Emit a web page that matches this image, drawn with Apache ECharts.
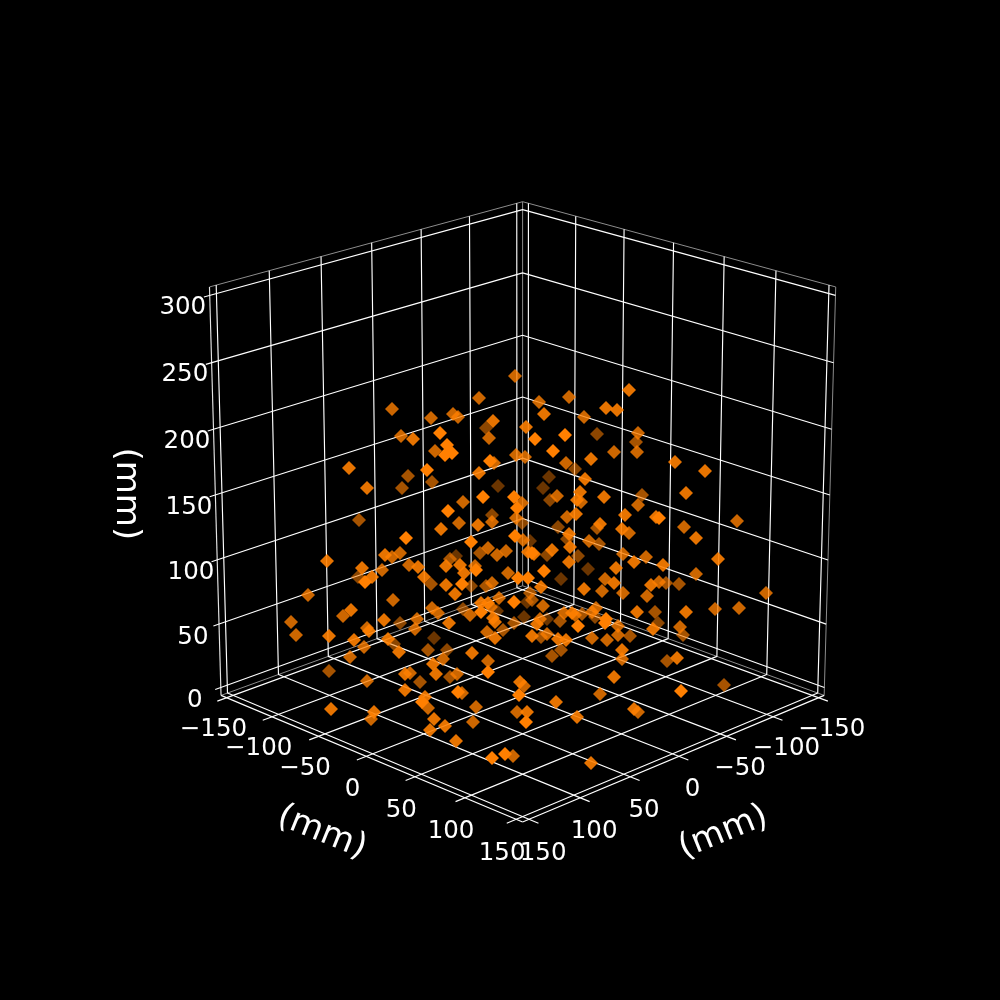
<!DOCTYPE html>
<html><head><meta charset="utf-8">
<style>html,body{margin:0;background:#000}#c{width:1000px;height:1000px}</style>
<script src="https://cdn.jsdelivr.net/npm/echarts@6/dist/echarts.min.js"></script></head>
<body><div id="c"></div>
<script>
const horizontalTicks = [-150,-100,-50,0,50,100,150];
const heightTicks = [0,50,100,150,200,250,300];
const axisTitle = "(mm)";
// samples: place on the view plane (0-1000) and depth shade
const sampleAcross = [515,479,392,431,453,458,493,486,489,526,401,413,440,447,435,445,452,516,525,490,494,349,479,427,408,367,402,432,498,483,514,463,522,448,517,492,359,459,478,492,516,522,441,406,515,523,471,488,480,506,497,528,327,385,392,400,456,450,409,418,446,460,475,362,382,358,365,372,424,431,464,476,446,462,455,471,486,492,508,518,528,308,393,291,296,351,343,384,329,367,369,354,364,350,329,367,331,374,371,388,394,399,400,417,415,432,438,449,463,470,481,488,481,491,497,499,514,527,524,493,495,514,487,503,495,434,447,428,472,443,433,488,488,436,457,450,410,405,420,405,458,462,425,422,428,476,520,524,519,517,527,526,473,434,445,430,456,492,505,513,
539,569,544,629,606,617,584,597,638,636,637,535,565,553,614,591,566,575,675,705,549,543,585,557,550,580,577,581,604,642,638,686,625,656,659,737,567,576,558,684,696,600,597,622,629,569,567,589,599,570,552,547,532,534,530,578,569,588,623,646,634,663,718,616,544,561,605,614,584,602,623,696,651,659,666,679,647,766,715,739,686,655,637,541,530,532,543,547,537,540,560,564,572,575,582,596,592,595,606,605,578,618,658,653,680,683,618,630,592,607,532,541,547,558,566,561,552,622,622,667,677,614,556,600,577,634,638,681,724,591];
const sampleDown = [376,398,409,418,414,417,421,428,438,427,436,439,433,445,451,455,453,455,457,461,463,468,473,470,476,488,488,482,486,497,497,502,503,511,508,515,520,523,525,522,518,523,529,538,536,540,542,548,553,551,555,552,561,555,557,553,556,559,565,567,566,565,566,568,570,577,582,577,577,584,573,570,585,584,594,586,586,583,573,578,578,595,600,622,635,610,616,620,636,628,631,640,647,657,671,681,709,712,719,639,644,652,623,619,629,608,613,623,609,615,603,603,612,607,611,598,602,602,617,618,622,623,632,630,638,638,650,650,653,659,664,661,672,674,674,677,673,674,682,690,692,693,697,702,708,707,682,686,695,712,712,722,722,719,726,730,741,758,754,756,
402,397,414,390,408,410,417,434,433,442,452,439,435,451,452,459,463,469,462,471,477,488,479,496,500,492,500,502,497,495,505,493,515,517,518,521,517,514,527,527,538,524,528,529,533,534,539,541,544,547,550,555,553,554,541,556,562,569,554,557,562,565,559,568,571,579,579,583,589,591,593,574,585,582,583,584,596,593,609,608,612,612,612,587,593,600,606,619,624,619,621,613,613,615,614,608,612,617,619,623,626,626,623,629,627,635,635,636,638,640,636,637,634,639,640,650,656,650,659,661,658,677,702,694,717,709,712,691,685,763];
const sampleShade = [.8,.8,.8,.8,.8,.8,.9,.55,.8,.9,.8,.9,1,1,.8,1,1,.8,.8,1,.8,.9,.9,1,.65,.9,.65,.65,.42,1,1,.8,.8,1,1,.55,.65,.8,.9,.8,.8,.55,.9,1,1,.8,1,.8,.65,.8,.8,.9,.9,.9,.8,.8,.42,.65,.8,.9,.9,.9,.8,.9,.8,.55,1,.9,.9,.65,.9,1,.9,1,.9,.55,.65,.8,.8,1,1,.8,.8,.8,.8,.9,.8,.9,.9,.8,.9,.9,.8,.8,.65,.8,.9,.9,.8,.9,.55,.9,.55,.8,.8,.8,.8,.9,.55,.8,.9,.9,1,.8,.42,.8,1,.42,.42,.9,.9,.65,.8,.65,.9,.42,.55,.65,.9,.8,.9,.8,1,.9,.8,.65,.8,.9,.65,.9,1,.8,.9,1,.8,.8,.9,.8,1,.8,.9,1,.8,.9,.9,.9,.9,1,1,.8,
.8,.8,.9,.9,.9,.9,.8,.55,.8,.65,.8,1,1,1,.8,.9,.8,.55,.9,.9,.42,.42,.9,.8,.55,.9,.9,.8,.9,.65,.8,.9,.9,.9,1,.8,.8,.9,.55,.8,.9,.9,.65,.9,.8,.9,.55,.8,.65,.9,.9,.55,1,.9,.42,.55,.9,.42,.8,.8,.9,.9,.9,.9,1,.42,.8,.9,.9,.8,.8,.8,.9,.8,.65,.65,.8,.8,.8,.8,.9,.65,.9,.9,.65,.65,.8,.42,.9,.8,.65,.8,.9,.8,.65,.8,.8,.55,1,1,1,.8,.55,.9,.8,.65,.8,.65,.8,.8,.9,.65,.8,.9,.9,.65,.65,.9,.8,.65,.9,.9,.9,.8,.9,.9,.8,1,.65,.9];

// viewing model of the box
const span = 156.25, zLow = -6.25, zHigh = 306.25;
const elev = 20*Math.PI/180, azim = 45*Math.PI/180, dist = 10, half = 0.55;
const scale = 3950, cx = 522.6, cy = 495;
function view(x,y,z){
  const X = x/span*half, Y = y/span*half, Z = (z-150)/(zHigh-150)*half;
  const u = -X*Math.sin(azim)+Y*Math.cos(azim);
  const v = -(X*Math.cos(azim)+Y*Math.sin(azim))*Math.sin(elev)+Z*Math.cos(elev);
  const w = (X*Math.cos(azim)+Y*Math.sin(azim))*Math.cos(elev)+Z*Math.sin(elev);
  return [cx+scale*u/(dist-w), cy-scale*v/(dist-w)];
}
function path(points,color,width){
  return {type:'line',silent:true,showSymbol:false,symbol:'none',animation:false,
    data:points.map(p=>view(p[0],p[1],p[2])),
    lineStyle:{color,width,cap:'butt',join:'bevel'},z:1};
}
const series = [];
const paneEdge = '#8c8c8c', ext = 9;
// pane outlines
series.push(path([[-span,span,zHigh],[-span,-span,zHigh],[span,-span,zHigh]],paneEdge,1));
series.push(path([[-span,span,zLow],[-span,span,zHigh]],paneEdge,1));
series.push(path([[-span,-span,zLow],[-span,-span,zHigh]],paneEdge,1));
series.push(path([[-span,span,zLow],[-span,-span,zLow],[span,-span,zLow]],paneEdge,1));
// axis lines
series.push(path([[span,-span,zLow],[span,span,zLow]],'#fff',1.15));
series.push(path([[-span,span,zLow],[span,span,zLow]],'#fff',1.15));
series.push(path([[span,-span,zLow],[span,-span,zHigh]],'#e4e4e4',1.15));
// grid lines with tick stubs
horizontalTicks.forEach(t=>{
  series.push(path([[t,span+ext,zLow],[t,-span,zLow],[t,-span,zHigh]],'#fff',1.15));
  series.push(path([[span+ext,t,zLow],[-span,t,zLow],[-span,t,zHigh]],'#fff',1.15));
});
heightTicks.forEach(t=>{
  series.push(path([[-span,span,t],[-span,-span,t],[span+ext*.6,-span,t]],'#fff',1.15));
});
// samples, far ones first
const order = sampleAcross.map((_,i)=>i).sort((a,b)=>sampleShade[a]-sampleShade[b]);
series.push({type:'scatter',symbol:'diamond',symbolSize:14,animation:false,silent:true,z:5,
  data:order.map(i=>({value:[sampleAcross[i],sampleDown[i]],itemStyle:{color:'#ff7f00',opacity:sampleShade[i]}}))});
// texts
const font = {fontFamily:'DejaVu Sans',color:'#fff'};
const tickItems = [];
const txt = v=>String(v).replace('-','\u2212');
horizontalTicks.forEach(t=>{
  tickItems.push({value:view(span+13.5,t,-27.5),name:txt(t)});
  tickItems.push({value:view(t,span+13.5,-27.5),name:txt(t)});
});
heightTicks.forEach(t=>tickItems.push({value:view(span+25,-span,t-3.2),name:txt(t)}));
series.push({type:'scatter',symbolSize:0,animation:false,silent:true,z:6,data:tickItems,itemStyle:{opacity:1},
  label:{show:true,position:'inside',align:'center',verticalAlign:'middle',fontSize:24.5,formatter:p=>p.name,...font}});
const titleItems = [
  {value:view(span+38,-6,-55),name:axisTitle,label:{rotate:-22}},
  {value:view(-6,span+38,-55),name:axisTitle,label:{rotate:22}},
  {value:view(span+82,-span,172),name:axisTitle,label:{rotate:-90}}
];
series.push({type:'scatter',symbolSize:0,animation:false,silent:true,z:6,data:titleItems,itemStyle:{opacity:1},
  label:{show:true,position:'inside',align:'center',verticalAlign:'middle',fontSize:34,formatter:p=>p.name,...font}});
const chart = echarts.init(document.getElementById('c'),null,{renderer:'canvas'});
chart.setOption({backgroundColor:'#000',animation:false,
  grid:{left:0,top:0,width:1000,height:1000},
  xAxis:{type:'value',min:0,max:1000,show:false},
  yAxis:{type:'value',min:0,max:1000,inverse:true,show:false},
  series});
</script></body></html>
